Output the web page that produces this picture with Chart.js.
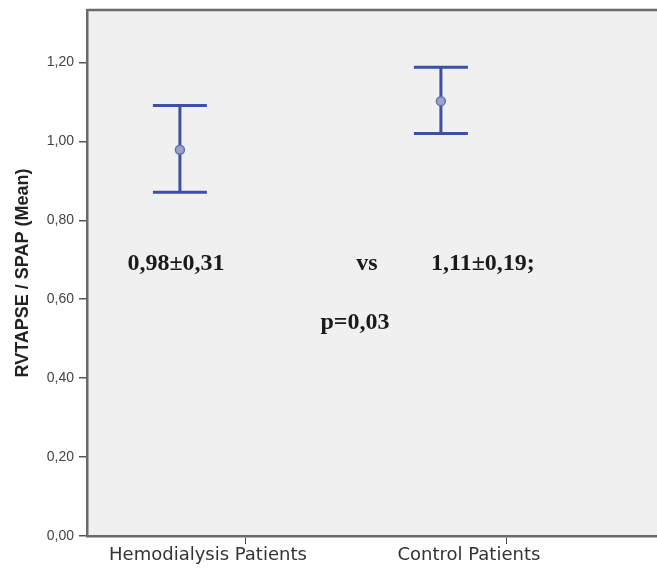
<!DOCTYPE html>
<html>
<head>
<meta charset="utf-8">
<script src="https://cdn.jsdelivr.net/npm/chart.js@4/dist/chart.umd.min.js"></script>
<style>
  html, body { margin: 0; padding: 0; background: #fff; }
  #wrap { width: 657px; height: 571px; }
</style>
</head>
<body>
<div id="wrap"><canvas id="rvChart"></canvas></div>
<script>
// Groups and their values
const categories = ['Hemodialysis Patients', 'Control Patients'];
const categoryPos = [1, 2];
const barPos = [0.747, 1.747];          // error bars sit left of the category ticks
const means = [0.979, 1.102];
const lower = [0.871, 1.020];
const upper = [1.091, 1.188];
const yTicks = [0, 0.2, 0.4, 0.6, 0.8, 1.0, 1.2];

// Text printed inside the plot
const noteText = ['0,98±0,31', 'vs', '1,11±0,19;', 'p=0,03'];
const noteX = [0.732, 1.464, 1.908, 1.418];
const noteY = [0.691, 0.691, 0.691, 0.541];

const barColor = '#3d4fa6';

const fmt = v => v.toFixed(2).replace('.', ',');

// background + top frame line
const frame = {
  id: 'frame',
  beforeDraw(chart) {
    const { ctx, chartArea: a } = chart;
    ctx.save();
    ctx.fillStyle = '#f0f0f0';
    ctx.fillRect(a.left, a.top, a.right - a.left, a.bottom - a.top);
    ctx.strokeStyle = '#6a6a6a';
    ctx.lineWidth = 2.5;
    ctx.beginPath();
    ctx.moveTo(a.left, a.top);
    ctx.lineTo(a.right, a.top);
    ctx.stroke();
    ctx.restore();
  }
};

// error bars + annotation text
const errorBars = {
  id: 'errorBars',
  afterDatasetsDraw(chart) {
    const { ctx, scales: { x, y } } = chart;
    ctx.save();
    ctx.strokeStyle = barColor;
    ctx.lineWidth = 3;
    barPos.forEach((p, i) => {
      const cx = x.getPixelForValue(p);
      const yt = y.getPixelForValue(upper[i]);
      const yb = y.getPixelForValue(lower[i]);
      ctx.beginPath();
      ctx.moveTo(cx, yt); ctx.lineTo(cx, yb);
      ctx.moveTo(cx - 27, yt); ctx.lineTo(cx + 27, yt);
      ctx.moveTo(cx - 27, yb); ctx.lineTo(cx + 27, yb);
      ctx.stroke();
      const cy = y.getPixelForValue(means[i]);
      ctx.beginPath();
      ctx.arc(cx, cy, 4.5, 0, Math.PI * 2);
      ctx.fillStyle = '#99a2cf';
      ctx.fill();
      ctx.lineWidth = 1.5;
      ctx.strokeStyle = '#6570b2';
      ctx.stroke();
      ctx.lineWidth = 3;
      ctx.strokeStyle = barColor;
    });
    ctx.fillStyle = '#1a1a1a';
    ctx.font = 'bold 24px "Liberation Serif", "Times New Roman", serif';
    ctx.textAlign = 'center';
    ctx.textBaseline = 'middle';
    noteText.forEach((t, i) => {
      ctx.fillText(t, x.getPixelForValue(noteX[i]), y.getPixelForValue(noteY[i]));
    });
    ctx.restore();
  }
};

new Chart(document.getElementById('rvChart'), {
  type: 'scatter',
  data: {
    datasets: [{
      data: [],
      pointRadius: 0
    }]
  },
  options: {
    responsive: true,
    maintainAspectRatio: false,
    animation: false,
    layout: { padding: { top: 10, right: 0, left: 0, bottom: 0 } },
    plugins: {
      legend: { display: false },
      tooltip: { enabled: false }
    },
    scales: {
      x: {
        type: 'linear',
        min: 0.391,
        max: 2.575,
        afterBuildTicks: scale => { scale.ticks = categoryPos.map(v => ({ value: v })); },
        afterFit: scale => { scale.height = 35; scale.paddingLeft = 0; scale.paddingRight = 0; },
        border: { display: true, color: '#6a6a6a', width: 2.5 },
        grid: { drawOnChartArea: false, drawTicks: true, tickLength: 8, color: '#444', lineWidth: 1 },
        ticks: {
          autoSkip: false,
          maxRotation: 0,
          padding: 1,
          labelOffset: -38,
          color: '#333',
          font: { family: '"DejaVu Sans", Tahoma, sans-serif', size: 18 },
          callback: v => categories[categoryPos.indexOf(v)] || ''
        }
      },
      y: {
        min: 0,
        max: 1.333,
        afterBuildTicks: scale => { scale.ticks = yTicks.map(v => ({ value: v })); },
        afterFit: scale => { scale.width = 87; scale.paddingTop = 0; scale.paddingBottom = 0; },
        border: { display: true, color: '#6a6a6a', width: 2.5 },
        grid: { drawOnChartArea: false, drawTicks: true, tickLength: 8, color: '#555', lineWidth: 1.5 },
        ticks: {
          padding: 5,
          color: '#444',
          font: { family: '"Liberation Sans", Arial, sans-serif', size: 14 },
          callback: v => fmt(v)
        },
        title: {
          display: true,
          text: 'RVTAPSE / SPAP (Mean)',
          color: '#222',
          padding: { top: 12, bottom: 0 },
          font: { family: '"Liberation Sans", Arial, sans-serif', size: 18, weight: 'bold' }
        }
      }
    }
  },
  plugins: [frame, errorBars]
});
</script>
</body>
</html>
